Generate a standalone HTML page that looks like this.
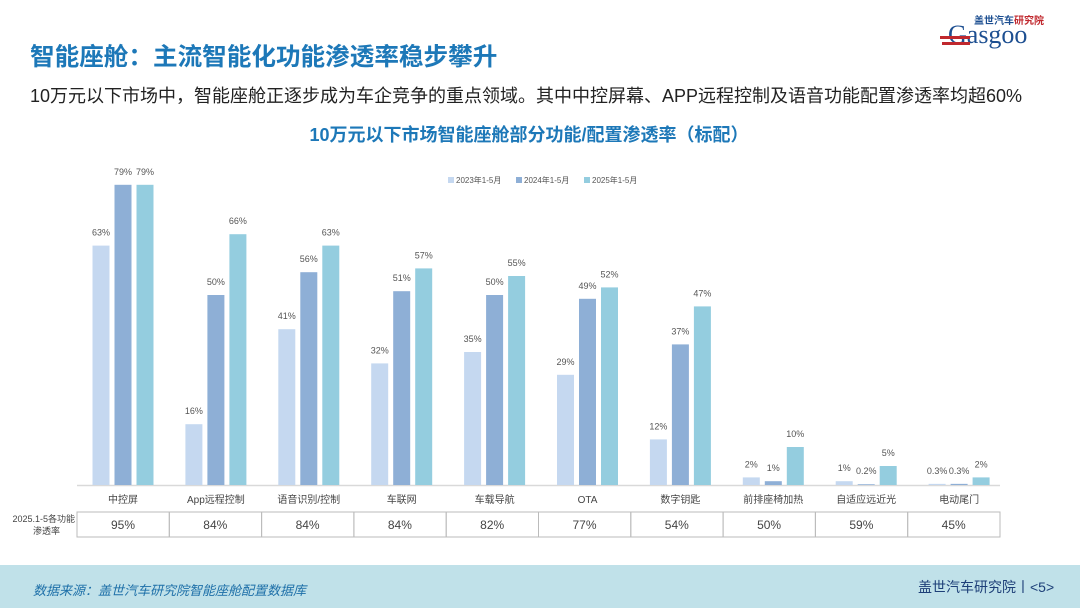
<!DOCTYPE html>
<html><head><meta charset="utf-8">
<style>
body{margin:0;width:1080px;height:608px;overflow:hidden;background:#fff;font-family:"Liberation Sans","Noto Sans CJK SC",sans-serif;position:relative}
.abs{position:absolute}
</style></head><body>
<div class="abs" style="left:30px;top:37px;font-size:24.6px;color:#1d78b8;font-weight:bold">智能座舱：主流智能化功能渗透率稳步攀升</div>
<div class="abs" style="left:30px;top:82px;font-size:18px;color:#222">10万元以下市场中，智能座舱正逐步成为车企竞争的重点领域。其中中控屏幕、APP远程控制及语音功能配置渗透率均超60%</div>
<div class="abs" style="left:0;width:1058px;text-align:center;top:121px;font-size:18px;color:#1d78b8;font-weight:bold">10万元以下市场智能座舱部分功能/配置渗透率（标配）</div>
<div class="abs" style="left:940px;top:8px;width:110px;height:44px">
<div style="font-size:10px;color:#1d4f91;position:absolute;left:34px;top:4px;font-weight:bold">盖世汽车<span style="color:#c0282e">研究院</span></div>
<div style="font-size:26px;color:#1d4f91;position:absolute;left:8px;top:12px;font-family:'Liberation Serif',serif">Gasgoo</div>
<div style="position:absolute;left:0;top:28px;width:30px;height:3px;background:#c0282e"></div>
<div style="position:absolute;left:2px;top:34px;width:28px;height:3px;background:#c0282e"></div>
</div>
<svg class="abs" style="left:0;top:0" width="1080" height="608" id="chart"></svg>
<div class="abs" style="left:0;top:565px;width:1080px;height:43px;background:#c0e1e9"></div>
<div class="abs" style="left:33px;top:580px;font-size:13px;color:#1d6fa8;font-style:italic">数据来源：盖世汽车研究院智能座舱配置数据库</div>
<div class="abs" style="left:918px;top:577px;font-size:14px;color:#1d3f78">盖世汽车研究院丨&lt;5&gt;</div>
<script>
const categories=["中控屏","App远程控制","语音识别/控制","车联网","车载导航","OTA","数字钥匙","前排座椅加热","自适应远近光","电动尾门"];
const s2023=[63,16,41,32,35,29,12,2,1,0.3];
const s2024=[79,50,56,51,50,49,37,1,0.2,0.3];
const s2025=[79,66,63,57,55,52,47,10,5,2];
const pen2025=["95%","84%","84%","84%","82%","77%","54%","50%","59%","45%"];
const seriesNames=["2023年1-5月","2024年1-5月","2025年1-5月"];
const colors=["#c5d8f0","#8eafd6","#94cddf"];
const svg=document.getElementById('chart');const NS="http://www.w3.org/2000/svg";
const base=485,scale=3.8,x0=123,step=92.9,bw=17;
const y=v=>base-v*scale;const xc=i=>x0+i*step;
function mk(t,a){const e=document.createElementNS(NS,t);for(const k in a)e.setAttribute(k,a[k]);svg.appendChild(e);return e;}
const ax=mk('line',{x1:77,x2:1000,y1:base+0.5,y2:base+0.5,stroke:'#d9d9d9','stroke-width':1.5});

const all=[s2023,s2024,s2025];
categories.forEach((c,i)=>{
 all.forEach((s,k)=>{
  const bx=xc(i)+(k-1)*22-bw/2;const v=s[i];
  const r=mk('rect',{x:bx,y:y(v),width:bw,height:base-y(v),fill:colors[k]});
  
  const t=mk('text',{x:bx+bw/2,y:y(v)-10,'text-anchor':'middle','font-size':9,fill:'#555'});t.textContent=v+'%';
  
 });
 const l=mk('text',{x:xc(i),y:503,'text-anchor':'middle','font-size':10,fill:'#444'});l.textContent=c;
 
 const cx=77+i*92.3;
 const cell=mk('rect',{x:cx,y:512,width:92.3,height:25,fill:'none',stroke:'#bbb'});
 
 const ct=mk('text',{x:cx+46,y:529,'text-anchor':'middle','font-size':12,fill:'#444'});ct.textContent=pen2025[i];
 
});
const h1=mk('text',{x:75,y:522,'text-anchor':'end','font-size':9,fill:'#444'});h1.textContent='2025.1-5各功能';

const h2=mk('text',{x:60,y:534,'text-anchor':'end','font-size':9,fill:'#444'});h2.textContent='渗透率';

seriesNames.forEach((n,k)=>{
 const lx=448+k*68;
 const r=mk('rect',{x:lx,y:177,width:6,height:6,fill:colors[k]});
 
 const t=mk('text',{x:lx+8,y:183,'font-size':8,fill:'#555'});t.textContent=n;
 
});
</script>
</body></html>
